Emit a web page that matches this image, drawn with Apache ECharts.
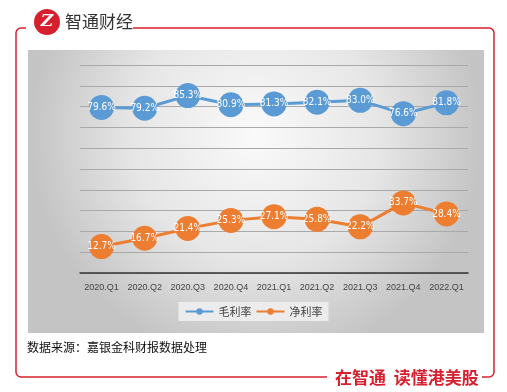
<!DOCTYPE html>
<html><head><meta charset="utf-8">
<script src="https://cdn.jsdelivr.net/npm/echarts@6/dist/echarts.min.js"></script>
<style>html,body{margin:0;padding:0;background:#fff}#c{width:507px;height:392px}</style>
</head><body><div id="c"></div>
<script>
const categories = ['2020.Q1','2020.Q2','2020.Q3','2020.Q4','2021.Q1','2021.Q2','2021.Q3','2021.Q4','2022.Q1'];
const grossMargin = [79.6, 79.2, 85.3, 80.9, 81.3, 82.1, 83.0, 76.6, 81.8];
const netMargin = [12.7, 16.7, 21.4, 25.3, 27.1, 25.8, 22.2, 33.7, 28.4];
const seriesNames = ['毛利率', '净利率'];
const titleText = '智通财经';
const sourceText = '数据来源：嘉银金科财报数据处理';
const sloganText = '在智通  读懂港美股';

const red = '#d7202d';
const chart = echarts.init(document.getElementById('c'));
const font = '"Noto Sans CJK SC", "Liberation Sans Narrow", sans-serif';
function lbl(){
  return {show:true, position:'inside', color:'#fff', fontSize:10, fontFamily:'"Liberation Sans Narrow", "DejaVu Sans Condensed", sans-serif',
    formatter: p => p.value.toFixed(1) + '%'};
}
chart.setOption({
  animation:false,
  graphic:[
    {type:'rect', z:-10, shape:{x:28,y:50,width:456,height:283},
      style:{fill:new echarts.graphic.RadialGradient(0.5,0.3,0.8,[{offset:0,color:'#fafafa'},{offset:0.55,color:'#e6e6e6'},{offset:1,color:'#c4c4c4'}])}},
    {type:'polyline', z:5, shape:{points:[[133,28],[489,28]]}, style:{stroke:red,lineWidth:1.5,fill:null}},
    {type:'arc', z:5, shape:{cx:489,cy:33,r:5,startAngle:-Math.PI/2,endAngle:0}, style:{stroke:red,lineWidth:1.5,fill:null}},
    {type:'polyline', z:5, shape:{points:[[494,33],[494,372]]}, style:{stroke:red,lineWidth:1.5,fill:null}},
    {type:'arc', z:5, shape:{cx:489,cy:372,r:5,startAngle:0,endAngle:Math.PI/2}, style:{stroke:red,lineWidth:1.5,fill:null}},
    {type:'polyline', z:5, shape:{points:[[489,377],[482,377]]}, style:{stroke:red,lineWidth:1.5,fill:null}},
    {type:'polyline', z:5, shape:{points:[[327,377],[21,377]]}, style:{stroke:red,lineWidth:1.5,fill:null}},
    {type:'arc', z:5, shape:{cx:21,cy:372,r:5,startAngle:Math.PI/2,endAngle:Math.PI}, style:{stroke:red,lineWidth:1.5,fill:null}},
    {type:'polyline', z:5, shape:{points:[[16,372],[16,33]]}, style:{stroke:red,lineWidth:1.5,fill:null}},
    {type:'arc', z:5, shape:{cx:21,cy:33,r:5,startAngle:Math.PI,endAngle:Math.PI*1.5}, style:{stroke:red,lineWidth:1.5,fill:null}},
    {type:'polyline', z:5, shape:{points:[[21,28],[26,28]]}, style:{stroke:red,lineWidth:1.5,fill:null}},
    {type:'circle', z:6, shape:{cx:47,cy:22,r:13}, style:{fill:red}},
    {type:'text', z:7, x:47, y:22, style:{text:'Z', fill:'#fff', fontSize:17, fontWeight:'bold', fontStyle:'italic', fontFamily:'"DejaVu Serif", serif', align:'center', verticalAlign:'middle'}},
    {type:'text', z:6, x:65, y:22, style:{text:titleText, fill:'#333', fontSize:17, fontFamily:font, verticalAlign:'middle'}},
    {type:'text', z:6, x:27, y:347, style:{text:sourceText, fill:'#111', fontSize:12, fontFamily:font, verticalAlign:'middle'}},
    {type:'text', z:6, x:335, y:378, style:{text:sloganText, fill:red, fontSize:17, fontWeight:'bold', fontFamily:font, verticalAlign:'middle'}}
  ],
  grid:{left:80, right:39, top:65, bottom:119},
  legend:{data:seriesNames, top:302, left:'center', itemWidth:28, itemHeight:8, itemGap:4,
    backgroundColor:'#ececec', padding:[4,6],
    textStyle:{fontSize:11, color:'#444', fontFamily:font}},
  xAxis:{type:'category', data:categories, boundaryGap:true,
    axisLine:{lineStyle:{color:'#333', width:1.5}}, axisTick:{show:false},
    axisLabel:{interval:0, color:'#444', fontSize:9, margin:10, fontFamily:'"Liberation Sans Narrow", sans-serif'}},
  yAxis:{type:'value', min:0, max:100, interval:10, axisLabel:{show:false}, axisLine:{show:false}, axisTick:{show:false},
    splitLine:{lineStyle:{color:'#a9a9a9', width:1}}},
  series:[
    {name:seriesNames[0], type:'line', data:grossMargin, symbol:'circle', symbolSize:25, color:'#5b9bd5',
      lineStyle:{width:3}, label:lbl()},
    {name:seriesNames[1], type:'line', data:netMargin, symbol:'circle', symbolSize:25, color:'#ed7d31',
      lineStyle:{width:3}, label:lbl()}
  ]
});
</script></body></html>
